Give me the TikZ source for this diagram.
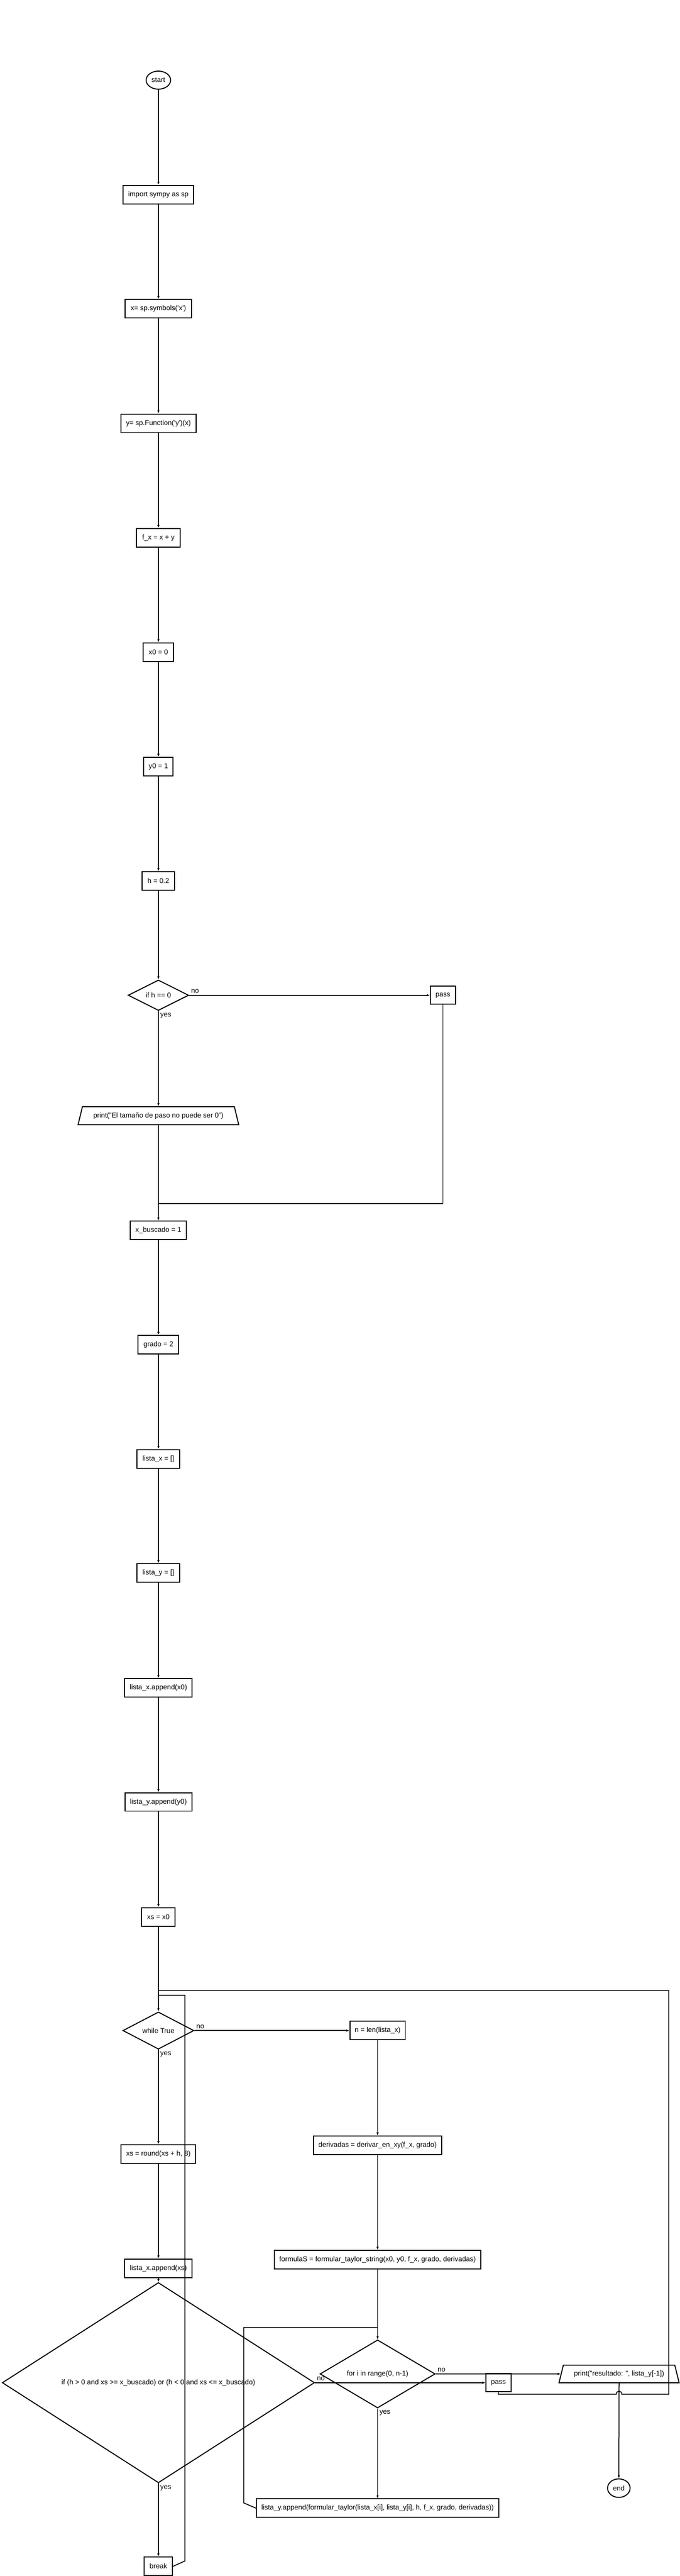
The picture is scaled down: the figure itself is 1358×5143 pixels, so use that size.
\documentclass[tikz,border=0pt]{standalone}
\usepackage{fontspec}
\setmainfont{Liberation Sans}
\usetikzlibrary{shapes.geometric,arrows.meta}
\begin{document}
\begin{tikzpicture}[x=1pt, y=-1pt,
	every node/.style={font=\fontsize{14}{16}\selectfont},
	box/.style={draw, line width=2pt, rectangle, minimum height=37pt, inner sep=2pt},
	term/.style={draw, line width=2pt, ellipse, inner sep=0pt},
	cond/.style={draw, line width=2pt, diamond, inner sep=0pt},
	io/.style={draw, line width=2pt, trapezium, trapezium left angle=63, trapezium right angle=63, trapezium stretches body, minimum height=36pt, inner sep=2pt},
	link/.style={line width=1.8pt},
	arr/.style={link, -{Latex[length=6pt,width=5pt]}},
	lbl/.style={inner sep=3pt}]
	\useasboundingbox (0,0) rectangle (1358,5143);
	\node[term, minimum width=49pt, minimum height=36pt] (start) at (316.5,160) {start};
	\node[box, minimum width=141pt] (imp) at (316.5,388.5) {import sympy as sp};
	\node[box, minimum width=133pt] (xsym) at (316.5,616.5) {x= sp.symbols(\textquotesingle x\textquotesingle)};
	\node[box, minimum width=150pt] (yfun) at (316.5,845) {y= sp.Function(\textquotesingle y\textquotesingle)(x)};
	\node[box, minimum width=87pt] (fx) at (316.5,1073.5) {f\_x = x + y};
	\node[box, minimum width=61pt] (xini) at (316.5,1302) {x0 = 0};
	\node[box, minimum width=59pt] (yini) at (316.5,1530.5) {y0 = 1};
	\node[box, minimum width=65pt] (hstep) at (316.5,1759) {h = 0.2};
	\node[cond, minimum width=121pt, minimum height=60pt] (ifh) at (316.5,1987) {if h == 0};
	\node[box, minimum width=50pt, minimum height=36pt] (passA) at (885,1987) {pass};
	\node[io, minimum width=321pt] (printA) at (316.5,2227.5) {print("El tamaño de paso no puede ser 0")};
	\node[box, minimum width=112pt] (xbus) at (316.5,2456.5) {x\_buscado = 1};
	\node[box, minimum width=81pt] (grado) at (316.5,2684.5) {grado = 2};
	\node[box, minimum width=85pt] (lx) at (316.5,2912.5) {lista\_x = []};
	\node[box, minimum width=85pt] (ly) at (316.5,3140.5) {lista\_y = []};
	\node[box, minimum width=135pt] (ax0) at (316.5,3370) {lista\_x.append(x0)};
	\node[box, minimum width=134pt] (ay0) at (316.5,3597.5) {lista\_y.append(y0)};
	\node[box, minimum width=67pt] (xs0) at (316.5,3827) {xs = x0};
	\node[cond, minimum width=142pt, minimum height=70pt] (wtrue) at (316.5,4054) {while True};
	\node[box, minimum width=149pt] (xsr) at (316.5,4300.5) {xs = round(xs + h, 8)};
	\node[box, minimum width=135pt] (axs) at (316.5,4528.5) {lista\_x.append(xs)};
	\node[cond, minimum width=624pt, minimum height=312pt] (bigif) at (316.5,4757) {if (h > 0 and xs >= x\_buscado) or (h < 0 and xs <= x\_buscado)};
	\node[box, minimum width=57pt] (brk) at (316.5,5123.5) {break};
	\node[box, minimum width=111pt] (nlen) at (754.5,4054) {n = len(lista\_x)};
	\node[box, minimum width=256pt] (deriv) at (754.5,4283) {derivadas = derivar\_en\_xy(f\_x, grado)};
	\node[box, minimum width=413pt] (formS) at (754.5,4511) {formulaS = formular\_taylor\_string(x0, y0, f\_x, grado, derivadas)};
	\node[cond, minimum width=230pt, minimum height=116pt] (fori) at (754.5,4739.5) {for i in range(0, n-1)};
	\node[box, minimum width=484pt] (appy) at (754.5,5007.5) {lista\_y.append(formular\_taylor(lista\_x[i], lista\_y[i], h, f\_x, grado, derivadas))};
	\node[box, minimum width=50pt, minimum height=36pt] (passB) at (996,4757) {pass};
	\node[io, minimum width=240pt, minimum height=35pt] (printB) at (1237,4739.5) {print("resultado: ", lista\_y[-1])};
	\node[term, minimum width=45pt, minimum height=37pt] (endn) at (1236.5,4967.5) {end};
	\coordinate (jA) at (316.5,2403);
	\coordinate (jW) at (316.5,3974);
	\coordinate (jB) at (316.5,3983.5);
	\coordinate (bR) at (369.5,5113);
	\coordinate (cR) at (1336.5,4780);
	\coordinate (hL) at (1231.5,4780);
	\coordinate (hR) at (1242.5,4780);
	\coordinate (aL) at (487,4997);
	\coordinate (jF) at (754.5,4647);
	\draw[arr] (start) -- (imp);
	\draw[arr] (imp) -- (xsym);
	\draw[arr] (xsym) -- (yfun);
	\draw[arr] (yfun) -- (fx);
	\draw[arr] (fx) -- (xini);
	\draw[arr] (xini) -- (yini);
	\draw[arr] (yini) -- (hstep);
	\draw[arr] (hstep) -- (ifh);
	\draw[arr] (ifh.east) -- (passA.west) node[lbl, pos=0, above right] {no};
	\draw[arr] (ifh.south) -- (printA.north) node[lbl, pos=0, below right] {yes};
	\draw[link] (passA.south) |- (jA);
	\draw[arr] (printA.south) -- (xbus);
	\draw[arr] (xbus) -- (grado);
	\draw[arr] (grado) -- (lx);
	\draw[arr] (lx) -- (ly);
	\draw[arr] (ly) -- (ax0);
	\draw[arr] (ax0) -- (ay0);
	\draw[arr] (ay0) -- (xs0);
	\draw[arr] (xs0) -- (wtrue);
	\draw[arr] (wtrue.east) -- (nlen.west) node[lbl, pos=0, above right] {no};
	\draw[arr] (wtrue.south) -- (xsr) node[lbl, pos=0, below right] {yes};
	\draw[arr] (xsr) -- (axs);
	\draw[arr] (axs) -- (bigif);
	\draw[arr] (bigif.south) -- (brk) node[lbl, pos=0, below right] {yes};
	\draw[arr] (bigif.east) -- (passB.west) node[lbl, pos=0, above right] {no};
	\draw[link] (brk.east) -- (bR) -- (bR |- jB) -- (jB);
	\draw[arr] (nlen) -- (deriv);
	\draw[arr] (deriv) -- (formS);
	\draw[arr] (formS) -- (fori);
	\draw[arr] (fori.south) -- (appy) node[lbl, pos=0, below right] {yes};
	\draw[arr] (fori.east) -- (printB.west) node[lbl, pos=0, above right] {no};
	\draw[link] (appy.west) -- (aL) -- (aL |- jF) -- (jF);
	\draw[link] (passB.south) -- (passB.south |- cR) -- (hL) .. controls (1231.5,4772) and (1242.5,4772) .. (hR) -- (cR) -- (cR |- jW) -- (jW);
	\draw[arr] (printB.south) -- (endn);
\end{tikzpicture}
\end{document}
